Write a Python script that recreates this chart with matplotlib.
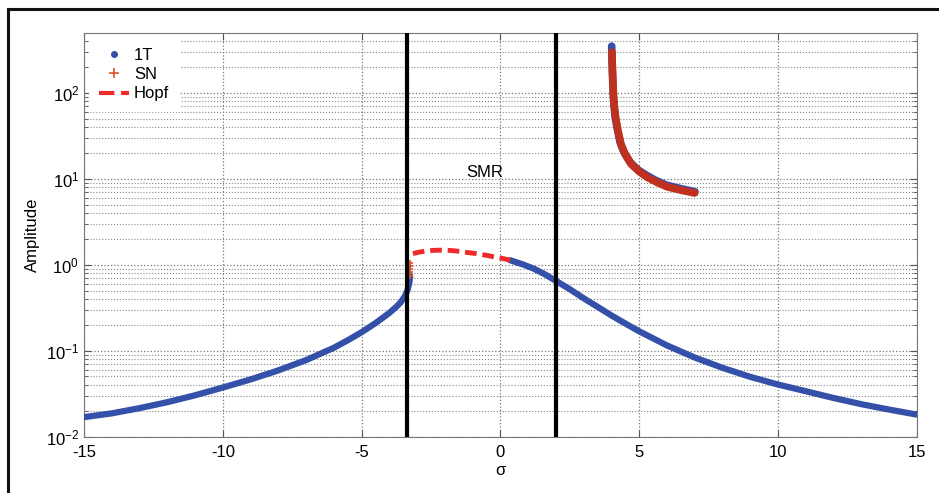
import matplotlib
matplotlib.use("Agg")
import matplotlib.pyplot as plt
from matplotlib.lines import Line2D
from matplotlib.ticker import LogLocator, NullFormatter

plt.rcParams['font.family'] = ['Liberation Sans', 'DejaVu Sans']

# lower 1T branch, left of the fold
sig_left = [-15, -14, -13, -12, -11, -10, -9, -8, -7, -6, -5.5, -5, -4.5, -4,
            -3.75, -3.6, -3.45, -3.35, -3.28, -3.25]
amp_left = [0.0168, 0.0186, 0.0214, 0.0251, 0.0302, 0.0372, 0.0462, 0.0589, 0.0776,
            0.108, 0.132, 0.164, 0.209, 0.275, 0.324, 0.363, 0.427, 0.501, 0.617, 0.741]
# lower 1T branch, right of the Hopf point
sig_right = [0.35, 0.8, 1.2, 1.6, 2.0, 2.5, 3.0, 3.5, 4.0, 4.5, 5.0, 6.0, 7.0, 8.0,
             9.0, 10, 11, 12, 13, 14, 15]
amp_right = [1.13, 1.012, 0.902, 0.776, 0.65, 0.519, 0.407, 0.324, 0.257, 0.207, 0.168,
             0.115, 0.0832, 0.0631, 0.0495, 0.0403, 0.0337, 0.0281, 0.0238, 0.0206, 0.018]
# Hopf segment
sig_hopf = [-3.15, -2.9, -2.7, -2.45, -2.2, -1.95, -1.7, -1.45, -1.2, -0.95, -0.7,
            -0.45, -0.25, 0.05, 0.35]
amp_hopf = [1.35, 1.41, 1.44, 1.47, 1.48, 1.475, 1.46, 1.43, 1.39, 1.36, 1.32, 1.28,
            1.24, 1.19, 1.13]
# SN points at the fold
sig_sn_fold = [-3.25, -3.25, -3.25, -3.25, -3.25]
amp_sn_fold = [0.75, 0.82, 0.90, 0.98, 1.06]
# upper branch (1T and SN)
sig_up = [4.01, 4.02, 4.04, 4.07, 4.10, 4.13, 4.20, 4.31, 4.45, 4.67, 4.95, 5.27, 5.6,
          5.99, 6.5, 7.01]
amp_up = [352, 250, 160, 93, 70, 54, 40, 26.8, 20.5, 15.7, 12.8, 11.0, 9.6, 8.45, 7.7,
          7.1]
sig_up_sn = [4.02, 4.03, 4.05, 4.08, 4.12, 4.16, 4.24, 4.35, 4.5, 4.72, 5.0, 5.3, 5.65,
             6.0, 6.5, 7.0]
amp_up_sn = [300, 220, 140, 85, 62, 50, 36, 25, 19.2, 14.8, 12.2, 10.4, 9.1, 8.1, 7.4,
             6.85]
# SMR boundaries
smr_bounds = [-3.35, 2.0]

blue = '#3450a8'
orange = '#d9542a'
red = '#ee2a2a'
darkred = '#c0301e'

fig = plt.figure(figsize=(9.39, 4.93), dpi=100)
ax = fig.add_axes([0.0895, 0.1146, 0.8868, 0.8184])

ax.set_yscale('log')
ax.set_xlim(-15, 15)
ax.set_ylim(1e-2, 500)

# grid like MATLAB
ax.yaxis.set_minor_locator(LogLocator(base=10, subs=range(2, 10), numticks=20))
ax.yaxis.set_minor_formatter(NullFormatter())
ax.grid(True, which='major', axis='both', linestyle=':', color='#777777', lw=0.9)
ax.grid(True, which='minor', axis='y', linestyle=':', color='#888888', lw=0.8)
ax.set_axisbelow(True)

ax.plot(sig_left, amp_left, color=blue, lw=4.5, solid_capstyle='round', zorder=3)
ax.plot(sig_right, amp_right, color=blue, lw=4.5, solid_capstyle='round', zorder=3)
ax.plot(sig_hopf, amp_hopf, color=red, lw=3.5, ls=(0, (2.4, 1.2)), zorder=3)
ax.plot(sig_sn_fold, amp_sn_fold, '+', color=orange, ms=5, mew=1.2, ls='none', zorder=4)
ax.plot(sig_up, amp_up, color=blue, lw=5.5, solid_capstyle='round', zorder=3)
ax.plot(sig_up_sn, amp_up_sn, color=darkred, lw=5.5, solid_capstyle='round', zorder=4)

for s in smr_bounds:
    ax.axvline(s, color='black', lw=3, zorder=5)

ax.text(-0.55, 12, 'SMR', fontsize=12, ha='center', va='center', zorder=6)

ax.set_xticks([-15, -10, -5, 0, 5, 10, 15])
ax.set_xticklabels(['-15', '-10', '-5', '0', '5', '10', '15'])
ax.tick_params(axis='both', which='both', direction='in', top=True, right=True,
               labelsize=12, color='#555555')
ax.tick_params(axis='x', pad=6)
ax.tick_params(which='major', length=5)
ax.tick_params(which='minor', length=3)
for sp in ax.spines.values():
    sp.set_color('#777777')

ax.set_xlabel('σ', fontsize=12, labelpad=2)
ax.set_ylabel('Amplitude', fontsize=12)

handles = [
    Line2D([], [], marker='.', ls='none', color=blue, ms=8),
    Line2D([], [], marker='+', ls='none', color=orange, ms=7, mew=1.2),
    Line2D([], [], ls='--', color=red, lw=3),
]
leg = ax.legend(handles, ['1T', 'SN', 'Hopf'], loc='upper left', fontsize=12,
                frameon=True, fancybox=False, edgecolor='white', framealpha=1,
                handlelength=1.8, handletextpad=0.3, borderaxespad=0.3,
                labelspacing=0.25, borderpad=0.6)
leg.set_zorder(10)

# outer frame (top and left edges)
fig.add_artist(Line2D([0.0085, 1.0], [0.9817, 0.9817], color='#111111', lw=2.2,
                      transform=fig.transFigure))
fig.add_artist(Line2D([0.0085, 0.0085], [0.0, 0.9817], color='#111111', lw=2.2,
                      transform=fig.transFigure))

fig.savefig('out.png', dpi=100)
